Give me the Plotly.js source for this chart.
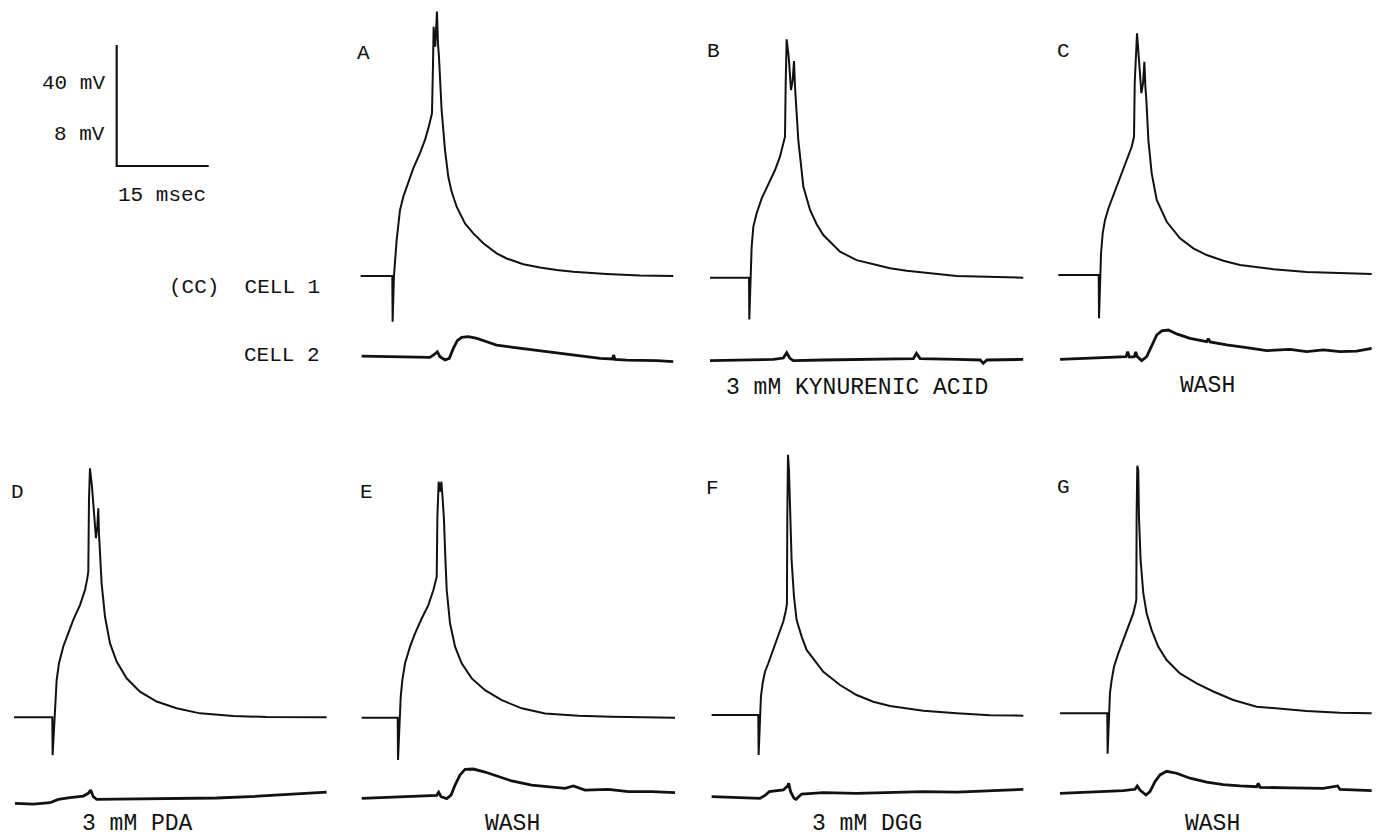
<!DOCTYPE html>
<html>
<head>
<meta charset="utf-8">
<script src="https://cdn.plot.ly/plotly-3.0.1.min.js"></script>
<style>html,body{margin:0;padding:0;background:#fff;}#chart{width:1380px;height:838px;}</style>
</head>
<body>
<div id="chart"></div>
<script>
// ---- Data: time in ms relative to the stimulus, voltage in mV relative to resting baseline ----
const panelIds = ['A','B','C','D','E','F','G'];
const conditionLabels = ['', '3 mM KYNURENIC ACID', 'WASH', '3 mM PDA', 'WASH', '3 mM DGG', 'WASH'];
const scaleBarMs = 15;
const scaleBarMv1 = 40;
const scaleBarMv2 = 8;

const A_cell1_t  = [-5.16,-0.11,0,0.05,0.27,0.71,0.98,1.25,1.79,2.61,3.42,4.51,5.33,5.87,6.25,6.47,6.63,6.74,7.01,7.28,7.45,7.61,8.04,8.59,9.13,9.67,10.49,11.85,13.21,14.84,17.01,18.64,21.36,24.08,26.79,29.51,34.95,40.38,45.82];
const A_cell1_mV = [0,0,0,-15.1,0,11.9,17.4,21.8,26.2,31.2,35.6,40.6,45.0,48.8,51.6,53.8,69.2,82.4,75.8,87.4,76.9,72.5,54.9,41.7,32.8,27.9,22.9,17.4,14.1,10.8,7.5,5.8,3.9,2.8,2.0,1.4,0.7,0.2,0];
const A_cell2_t  = [-5.0,-0.38,3.42,6.14,6.96,7.34,7.77,8.59,9.29,9.95,10.6,11.3,12.4,13.8,15.4,17.0,19.7,24.1,29.5,33.9,35.9,36.1,36.3,38.2,43.1,45.8];
const A_cell2_mV = [0.04,0,-0.04,-0.04,0.18,0.33,0,-0.22,-0.11,0.55,1.06,1.28,1.32,1.21,0.99,0.77,0.62,0.40,0.11,-0.11,-0.15,0.11,-0.18,-0.22,-0.26,-0.33];

const B_cell1_t  = [-6.36,-0.11,0,0.05,0.27,0.43,0.71,1.25,2.07,3.15,4.24,5.05,5.60,5.87,5.98,6.14,6.47,6.85,7.12,7.34,7.50,7.66,8.04,8.86,9.95,11.03,12.12,14.84,17.55,20.82,23.0,25.71,28.42,33.86,44.73];
const B_cell1_mV = [0,0,0,-13.8,0,10.2,16.9,21.3,26.2,30.6,35.6,40.0,44.4,46.6,64.2,78.8,73.1,62.0,65.3,71.6,63.1,58.2,45.5,30.1,22.4,17.7,14.1,8.6,5.8,4.2,3.1,2.3,1.65,0.55,0];
const B_cell2_t  = [-6.36,-1.47,3.97,5.60,6.14,6.68,7.23,12.1,17.5,23.0,26.8,27.3,27.9,33.9,37.7,38.2,38.8,44.7];
const B_cell2_mV = [-0.04,0,0.04,0.13,0.48,0.11,-0.04,0,0.02,0.04,0.09,0.44,0.09,0.04,0,-0.22,0,0.04];

const C_cell1_t  = [-6.58,-0.11,0,0.05,0.22,0.38,0.65,1.03,1.58,2.39,3.48,4.57,5.38,5.76,5.87,6.25,6.58,6.96,7.23,7.45,7.61,7.77,8.10,8.64,9.46,11.09,13.26,15.43,17.61,20.33,23.04,28.48,33.91,39.35,44.51];
const C_cell1_mV = [0,0,0,-14.3,0,7.2,13.8,18.2,22.0,26.4,32.0,38.0,42.4,45.7,63.4,79.9,71.1,60.1,63.4,70.5,62.3,57.9,44.6,33.6,24.8,17.6,12.1,8.8,6.6,4.7,3.3,1.9,1.0,0.55,0.33];
const C_cell2_t  = [-6.30,-1.41,2.39,4.46,4.73,5.0,5.82,6.03,6.30,7.01,7.83,8.64,9.46,10.27,11.36,12.72,14.89,17.61,17.88,18.15,20.87,24.13,27.39,31.20,33.91,36.63,39.35,42.07,44.51];
const C_cell2_mV = [-0.07,0,0.07,0.11,0.44,0.09,0.11,0.42,0.11,-0.15,0.11,0.77,1.54,1.81,1.87,1.61,1.32,1.10,1.30,1.08,0.88,0.70,0.51,0.59,0.44,0.55,0.44,0.48,0.66];

const D_cell1_t  = [-6.25,-0.11,0,0.05,0.33,0.49,0.71,1.09,1.79,2.61,3.42,4.51,5.33,5.71,5.87,5.98,6.14,6.47,6.79,7.12,7.34,7.50,7.61,7.77,8.04,8.59,9.40,10.49,12.12,14.29,17.01,20.27,24.08,29.51,34.95,44.73];
const D_cell1_mV = [0,0,0,-12.5,0,6.8,12.3,17.9,23.4,27.8,32.2,37.1,42.1,45.9,48.2,71.8,82.3,76.3,66.3,59.2,63.1,69.1,60.8,55.3,44.3,33.3,24.5,18.4,12.9,8.5,5.2,3.0,1.3,0.44,0.11,0];
const D_cell2_t  = [-6.09,-3.10,-0.38,0.98,2.88,5.05,5.87,6.25,6.68,7.23,10.49,15.92,21.36,26.79,32.23,37.66,42.01,44.73];
const D_cell2_mV = [-0.04,-0.09,0,0.22,0.33,0.44,0.62,0.84,0.40,0.22,0.24,0.26,0.29,0.31,0.40,0.51,0.62,0.70];

const E_cell1_t  = [-5.87,-0.11,0,0.05,0.27,0.49,0.76,1.20,2.01,2.83,3.91,5.0,5.82,6.20,6.36,6.47,6.68,6.90,7.12,7.34,7.55,7.72,7.99,8.53,9.35,10.43,12.07,14.24,16.96,20.22,24.02,29.46,34.89,45.22];
const E_cell1_mV = [0,0,0,-14.0,0,6.9,12.5,18.0,23.5,27.9,32.8,37.2,42.2,45.0,46.6,66.4,78.0,74.7,78.0,72.0,65.3,55.4,42.2,31.2,23.5,18.0,13.0,9.1,5.8,3.1,1.4,0.66,0.33,0];
const E_cell2_t  = [-5.87,-0.43,5.0,6.36,6.68,7.07,7.99,8.70,9.35,10.16,10.98,12.34,14.24,16.41,18.59,21.85,25.11,27.28,28.64,30.54,34.35,37.61,41.41,45.22];
const E_cell2_mV = [-0.07,0,0.09,0.13,0.33,0.04,-0.09,0.15,0.81,1.48,1.85,1.87,1.67,1.37,1.08,0.81,0.66,0.59,0.75,0.48,0.53,0.37,0.37,0.31];

const F_cell1_t  = [-7.61,-0.11,0,0.05,0.27,0.43,0.71,1.09,1.63,2.45,3.26,4.08,4.51,4.67,4.73,4.84,5.0,5.16,5.43,5.82,6.25,7.07,7.88,10.60,13.32,16.03,18.75,21.47,26.90,32.34,37.77,43.21];
const F_cell1_mV = [0,0,0,-13.2,0,6.1,10.5,14.3,17.1,21.5,25.9,30.9,34.7,36.9,65.6,86.0,81.0,65.6,51.2,39.1,31.4,25.9,21.5,14.3,9.9,6.6,4.4,3.0,1.4,0.55,-0.11,-0.22];
const F_cell2_t  = [-7.61,-2.99,0.27,1.09,1.79,4.08,4.78,4.95,5.27,5.82,6.14,7.07,10.60,16.03,21.47,26.90,32.34,37.77,43.21];
const F_cell2_mV = [0.07,-0.02,-0.04,0.15,0.40,0.51,0.77,0.95,0.40,-0.04,-0.11,0.24,0.33,0.29,0.33,0.40,0.37,0.46,0.55];

const G_cell1_t  = [-7.72,-0.11,0,0.05,0.33,0.43,0.71,1.09,1.79,2.61,3.42,4.24,4.62,4.73,4.78,4.89,5.05,5.16,5.43,5.87,6.41,7.23,8.32,9.67,11.85,14.57,17.28,20.54,24.35,27.07,32.5,37.93,43.10];
const G_cell1_mV = [0,0,0,-13.4,0,6.6,11.0,15.4,19.8,24.2,28.7,33.1,36.4,37.5,65.0,81.8,80.4,65.0,50.7,39.7,33.1,27.5,22.0,17.6,13.2,9.9,7.2,4.4,2.2,1.65,0.77,0.22,0];
const G_cell2_t  = [-7.72,-2.83,2.61,4.51,4.89,5.33,6.30,6.96,7.77,8.59,9.67,11.30,13.48,16.20,18.91,21.63,24.35,24.62,24.89,29.78,35.22,37.55,37.93,43.10];
const G_cell2_mV = [-0.07,0.02,0.11,0.20,0.42,0.15,-0.18,0.04,0.70,1.15,1.39,1.26,0.93,0.68,0.51,0.42,0.37,0.59,0.33,0.29,0.26,0.42,0.20,0.11];

const traces = {
  A:[A_cell1_t,A_cell1_mV,A_cell2_t,A_cell2_mV], B:[B_cell1_t,B_cell1_mV,B_cell2_t,B_cell2_mV],
  C:[C_cell1_t,C_cell1_mV,C_cell2_t,C_cell2_mV], D:[D_cell1_t,D_cell1_mV,D_cell2_t,D_cell2_mV],
  E:[E_cell1_t,E_cell1_mV,E_cell2_t,E_cell2_mV], F:[F_cell1_t,F_cell1_mV,F_cell2_t,F_cell2_mV],
  G:[G_cell1_t,G_cell1_mV,G_cell2_t,G_cell2_mV]
};

// ---- Layout (pixel geometry) ----
const W = 1380, H = 838;
const pxPerMs = 92 / 15, pxPerMv1 = 121 / 40, pxPerMv2 = 121 / 8;
// stimulus x, cell-1 baseline y, cell-2 baseline y, label positions (bottom row labels anchored at the page bottom)
const geom = {
  A:{sx:392.3, b1:276.0, b2:356.7, lx:363, ly:53,  cx:0,    cy:0},
  B:{sx:749.0, b1:277.7, b2:360.0, lx:713, ly:52,  cx:857,  cy:388},
  C:{sx:1098.7,b1:275.0, b2:358.3, lx:1063,ly:52,  cx:1207, cy:386},
  D:{sx:52.3,  b1:717.3, b2:802.7, lx:17,  ly:492, cx:137,  cy:null},
  E:{sx:397.7, b1:717.7, b2:797.3, lx:366, ly:493, cx:512,  cy:null},
  F:{sx:758.3, b1:715.0, b2:797.7, lx:712, ly:488, cx:867,  cy:null},
  G:{sx:1107.3,b1:713.3, b2:792.3, lx:1063,ly:487, cx:1212, cy:null}
};

const ink = '#111111';
const layout = {
  width: W, height: H, margin:{l:0,r:0,t:0,b:0,pad:0},
  paper_bgcolor:'#ffffff', plot_bgcolor:'rgba(0,0,0,0)', showlegend:false,
  annotations: []
};
const hidden = {visible:false, domain:[0,1], fixedrange:true, showgrid:false, zeroline:false};
const data = [];
const px = x => x / W, py = y => 1 - y / H;
const font = (s) => ({family:'Liberation Mono, DejaVu Sans Mono, monospace', size:s, color:ink});

panelIds.forEach((id, i) => {
  const g = geom[id];
  const xn = i + 1, y1 = 2*i + 1, y2 = 2*i + 2;
  const xk = xn === 1 ? 'xaxis' : 'xaxis' + xn;
  const xr = xn === 1 ? 'x' : 'x' + xn;
  const y1k = y1 === 1 ? 'yaxis' : 'yaxis' + y1, y1r = y1 === 1 ? 'y' : 'y' + y1;
  const y2k = 'yaxis' + y2, y2r = 'y' + y2;
  layout[xk] = Object.assign({}, hidden, {range:[(0 - g.sx)/pxPerMs, (W - g.sx)/pxPerMs]});
  layout[y1k] = Object.assign({}, hidden, {anchor:xr, range:[-(H - g.b1)/pxPerMv1, g.b1/pxPerMv1]});
  layout[y2k] = Object.assign({}, hidden, {anchor:xr, range:[-(H - g.b2)/pxPerMv2, g.b2/pxPerMv2]});
  const d = traces[id];
  data.push({type:'scatter', mode:'lines', x:d[0], y:d[1], xaxis:xr, yaxis:y1r,
             line:{color:ink, width:2, shape:'linear'}, hoverinfo:'skip'});
  data.push({type:'scatter', mode:'lines', x:d[2], y:d[3], xaxis:xr, yaxis:y2r,
             line:{color:ink, width:2.8, shape:'linear'}, hoverinfo:'skip'});
  layout.annotations.push({text:id, x:px(g.lx), y:py(g.ly), xref:'paper', yref:'paper',
             xanchor:'center', yanchor:'middle', showarrow:false, font:font(21)});
  if (conditionLabels[i]) {
    if (g.cy === null) {
      layout.annotations.push({text:conditionLabels[i], x:px(g.cx), y:0, xref:'paper', yref:'paper',
             xanchor:'center', yanchor:'bottom', showarrow:false, borderpad:0, font:font(23)});
    } else {
      layout.annotations.push({text:conditionLabels[i], x:px(g.cx), y:py(g.cy), xref:'paper', yref:'paper',
             xanchor:'center', yanchor:'middle', showarrow:false, font:font(23)});
    }
  }
});

// scale bar axes (corner at 116.7, 166)
const sbx = 116.7, sby = 166;
layout.xaxis8 = Object.assign({}, hidden, {range:[(0 - sbx)/pxPerMs, (W - sbx)/pxPerMs]});
layout.yaxis15 = Object.assign({}, hidden, {anchor:'x8', range:[-(H - sby)/pxPerMv1, sby/pxPerMv1]});
data.push({type:'scatter', mode:'lines', x:[0, 0, scaleBarMs], y:[scaleBarMv1, 0, 0],
           xaxis:'x8', yaxis:'y15', line:{color:ink, width:2.2}, hoverinfo:'skip'});

const sideLabels = [
  {text: scaleBarMv1 + ' mV', x:107, y:83,  xa:'right'},
  {text: scaleBarMv2 + ' mV', x:107, y:134, xa:'right'},
  {text: scaleBarMs + ' msec', x:116, y:196, xa:'left'},
  {text: '(CC)  CELL 1', x:322, y:287, xa:'right'},
  {text: 'CELL 2', x:322, y:355, xa:'right'}
];
sideLabels.forEach(s => layout.annotations.push({text:s.text, x:px(s.x), y:py(s.y), xref:'paper', yref:'paper',
  xanchor:s.xa, yanchor:'middle', showarrow:false, font:font(21)}));

Plotly.newPlot('chart', data, layout, {staticPlot:true, displayModeBar:false});
</script>
</body>
</html>
